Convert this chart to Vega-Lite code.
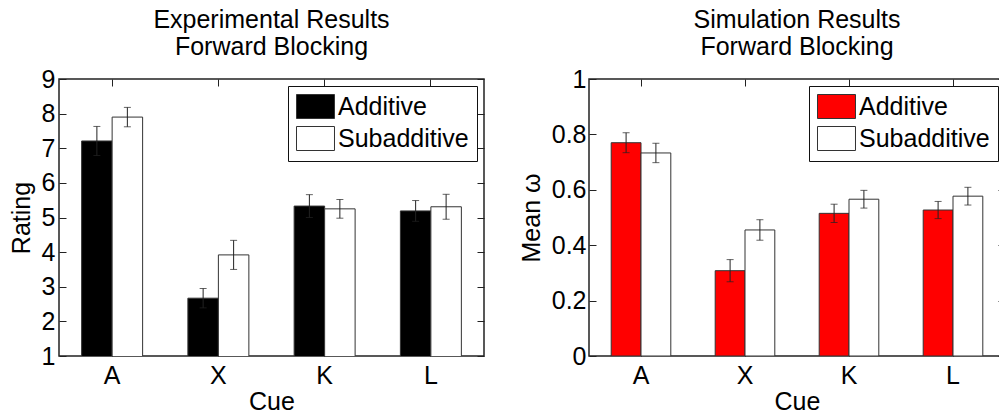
{
  "$schema": "https://vega.github.io/schema/vega-lite/v6.json",
  "padding": {"left": 8, "top": 6, "right": 0, "bottom": 0},
  "background": "white",
  "bounds": "flush",
  "spacing": 105,
  "config": {
    "font": "Liberation Sans",
    "view": {"stroke": "#222", "strokeWidth": 1.5},
    "axis": {
      "domain": false,
      "grid": false,
      "tickColor": "#222",
      "tickWidth": 1,
      "tickSize": -7,
      "labelFont": "Liberation Sans",
      "labelFontSize": 25,
      "labelColor": "#000",
      "titleFont": "Liberation Sans",
      "titleFontSize": 25,
      "titleFontWeight": "normal",
      "titleColor": "#000"
    },
    "title": {"font": "Liberation Sans", "fontSize": 25, "fontWeight": "normal", "color": "#000", "anchor": "middle", "baseline": "alphabetic", "offset": 7, "lineHeight": 27.5},
    "legend": {
      "orient": "top-right",
      "offset": 7,
      "title": null,
      "padding": 8,
      "strokeColor": "#111",
      "fillColor": "white",
      "labelFont": "Liberation Sans",
      "labelFontSize": 25,
      "labelColor": "#000",
      "labelOffset": 10,
      "symbolOffset": 7,
      "rowPadding": 3,
      "symbolType": "M-1.583,-1H1.583V1H-1.583Z",
      "symbolSize": 576,
      "symbolStrokeColor": "#333",
      "symbolStrokeWidth": 1
    }
  },
  "datasets": {
    "experiment": [
      {"cue": "A", "condition": "Additive", "mean": 7.21, "lo": 6.79, "hi": 7.63},
      {"cue": "A", "condition": "Subadditive", "mean": 7.9, "lo": 7.62, "hi": 8.18},
      {"cue": "X", "condition": "Additive", "mean": 2.67, "lo": 2.39, "hi": 2.95},
      {"cue": "X", "condition": "Subadditive", "mean": 3.92, "lo": 3.5, "hi": 4.34},
      {"cue": "K", "condition": "Additive", "mean": 5.33, "lo": 5.0, "hi": 5.66},
      {"cue": "K", "condition": "Subadditive", "mean": 5.25, "lo": 4.98, "hi": 5.52},
      {"cue": "L", "condition": "Additive", "mean": 5.19, "lo": 4.89, "hi": 5.49},
      {"cue": "L", "condition": "Subadditive", "mean": 5.31, "lo": 4.95, "hi": 5.67}
    ],
    "simulation": [
      {"cue": "A", "condition": "Additive", "mean": 0.77, "lo": 0.734, "hi": 0.806},
      {"cue": "A", "condition": "Subadditive", "mean": 0.733, "lo": 0.698, "hi": 0.768},
      {"cue": "X", "condition": "Additive", "mean": 0.308, "lo": 0.268, "hi": 0.348},
      {"cue": "X", "condition": "Subadditive", "mean": 0.455, "lo": 0.418, "hi": 0.492},
      {"cue": "K", "condition": "Additive", "mean": 0.515, "lo": 0.482, "hi": 0.548},
      {"cue": "K", "condition": "Subadditive", "mean": 0.566, "lo": 0.534, "hi": 0.598},
      {"cue": "L", "condition": "Additive", "mean": 0.527, "lo": 0.496, "hi": 0.558},
      {"cue": "L", "condition": "Subadditive", "mean": 0.577, "lo": 0.545, "hi": 0.609}
    ]
  },
  "resolve": {
    "scale": {"x": "independent", "y": "independent", "xOffset": "independent", "color": "independent"},
    "legend": {"color": "independent"}
  },
  "hconcat": [
    {
      "width": 425,
      "height": 277,
      "title": {"text": ["Experimental Results", "Forward Blocking"]},
      "data": {"name": "experiment"},
      "layer": [
        {
          "mark": {"type": "bar", "stroke": "#333", "strokeWidth": 1, "clip": true},
          "encoding": {
            "x": {"field": "cue", "type": "nominal", "sort": ["A", "X", "K", "L"], "scale": {"paddingInner": 0, "paddingOuter": 0},
                  "axis": {"orient": "bottom", "labelAngle": 0, "labelPadding": 14, "titlePadding": 1}, "title": "Cue"},
            "xOffset": {"field": "condition", "type": "nominal", "sort": ["Additive", "Subadditive"], "scale": {"paddingInner": 0, "paddingOuter": 0.742}},
            "y": {"field": "mean", "type": "quantitative", "scale": {"domain": [1, 9], "nice": false, "zero": false},
                  "axis": {"orient": "left", "values": [1, 2, 3, 4, 5, 6, 7, 8, 9], "labelPadding": 11, "titlePadding": 7}, "title": "Rating"},
            "color": {"field": "condition", "type": "nominal", "sort": ["Additive", "Subadditive"],
                      "scale": {"domain": ["Additive", "Subadditive"], "range": ["#000000", "#ffffff"]}}
          }
        },
        {
          "mark": {"type": "rule", "color": "#222", "strokeWidth": 1},
          "encoding": {
            "x": {"field": "cue", "type": "nominal", "sort": ["A", "X", "K", "L"],
                  "axis": {"orient": "top", "labels": false, "title": null}},
            "xOffset": {"field": "condition", "type": "nominal", "sort": ["Additive", "Subadditive"]},
            "y": {"field": "lo", "type": "quantitative", "scale": {"domain": [1, 9], "nice": false, "zero": false},
                  "axis": {"orient": "right", "values": [1, 2, 3, 4, 5, 6, 7, 8, 9], "labels": false, "title": null}},
            "y2": {"field": "hi"}
          }
        },
        {
          "mark": {"type": "tick", "orient": "horizontal", "size": 7, "thickness": 1, "color": "#222"},
          "encoding": {
            "x": {"field": "cue", "type": "nominal", "sort": ["A", "X", "K", "L"], "axis": null},
            "xOffset": {"field": "condition", "type": "nominal", "sort": ["Additive", "Subadditive"]},
            "y": {"field": "lo", "type": "quantitative", "scale": {"domain": [1, 9], "nice": false, "zero": false}, "axis": null}
          }
        },
        {
          "mark": {"type": "tick", "orient": "horizontal", "size": 7, "thickness": 1, "color": "#222"},
          "encoding": {
            "x": {"field": "cue", "type": "nominal", "sort": ["A", "X", "K", "L"], "axis": null},
            "xOffset": {"field": "condition", "type": "nominal", "sort": ["Additive", "Subadditive"]},
            "y": {"field": "hi", "type": "quantitative", "scale": {"domain": [1, 9], "nice": false, "zero": false}, "axis": null}
          }
        }
      ],
      "resolve": {"axis": {"x": "independent", "y": "independent"}}
    },
    {
      "width": 416,
      "height": 277,
      "title": {"text": ["Simulation Results", "Forward Blocking"]},
      "data": {"name": "simulation"},
      "layer": [
        {
          "mark": {"type": "bar", "stroke": "#333", "strokeWidth": 1, "clip": true},
          "encoding": {
            "x": {"field": "cue", "type": "nominal", "sort": ["A", "X", "K", "L"], "scale": {"paddingInner": 0, "paddingOuter": 0},
                  "axis": {"orient": "bottom", "labelAngle": 0, "labelPadding": 14, "titlePadding": 1}, "title": "Cue"},
            "xOffset": {"field": "condition", "type": "nominal", "sort": ["Additive", "Subadditive"], "scale": {"paddingInner": 0, "paddingOuter": 0.745}},
            "y": {"field": "mean", "type": "quantitative", "scale": {"domain": [0, 1], "nice": false},
                  "axis": {"orient": "left", "values": [0, 0.2, 0.4, 0.6, 0.8, 1], "format": "~g", "labelPadding": 10, "titlePadding": 7}, "title": "Mean ω"},
            "color": {"field": "condition", "type": "nominal", "sort": ["Additive", "Subadditive"],
                      "scale": {"domain": ["Additive", "Subadditive"], "range": ["#ff0000", "#ffffff"]}}
          }
        },
        {
          "mark": {"type": "rule", "color": "#222", "strokeWidth": 1},
          "encoding": {
            "x": {"field": "cue", "type": "nominal", "sort": ["A", "X", "K", "L"],
                  "axis": {"orient": "top", "labels": false, "title": null}},
            "xOffset": {"field": "condition", "type": "nominal", "sort": ["Additive", "Subadditive"]},
            "y": {"field": "lo", "type": "quantitative", "scale": {"domain": [0, 1], "nice": false},
                  "axis": {"orient": "right", "values": [0, 0.2, 0.4, 0.6, 0.8, 1], "labels": false, "title": null}},
            "y2": {"field": "hi"}
          }
        },
        {
          "mark": {"type": "tick", "orient": "horizontal", "size": 7, "thickness": 1, "color": "#222"},
          "encoding": {
            "x": {"field": "cue", "type": "nominal", "sort": ["A", "X", "K", "L"], "axis": null},
            "xOffset": {"field": "condition", "type": "nominal", "sort": ["Additive", "Subadditive"]},
            "y": {"field": "lo", "type": "quantitative", "scale": {"domain": [0, 1], "nice": false}, "axis": null}
          }
        },
        {
          "mark": {"type": "tick", "orient": "horizontal", "size": 7, "thickness": 1, "color": "#222"},
          "encoding": {
            "x": {"field": "cue", "type": "nominal", "sort": ["A", "X", "K", "L"], "axis": null},
            "xOffset": {"field": "condition", "type": "nominal", "sort": ["Additive", "Subadditive"]},
            "y": {"field": "hi", "type": "quantitative", "scale": {"domain": [0, 1], "nice": false}, "axis": null}
          }
        }
      ],
      "resolve": {"axis": {"x": "independent", "y": "independent"}}
    }
  ]
}
